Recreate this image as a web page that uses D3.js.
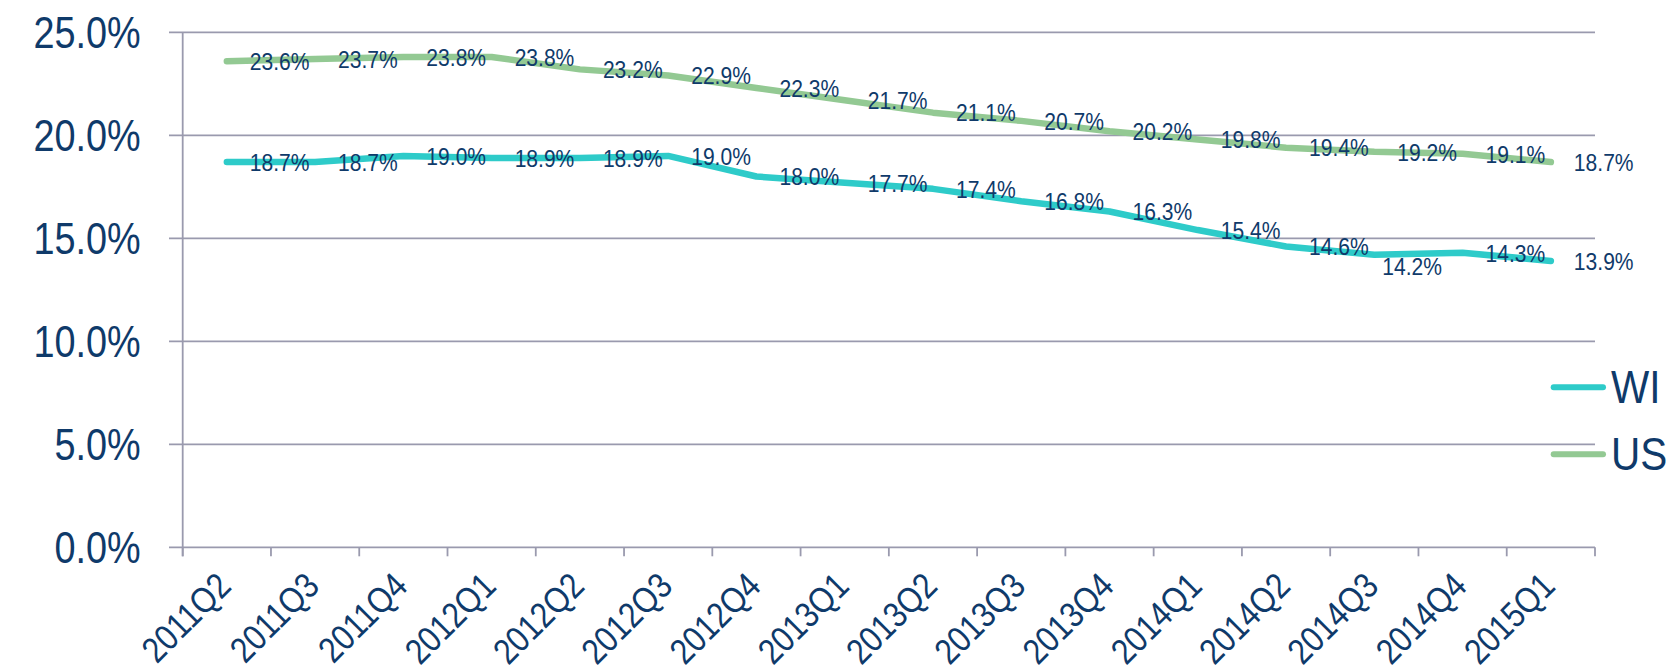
<!DOCTYPE html>
<html>
<head>
<meta charset="utf-8">
<script src="https://cdn.jsdelivr.net/npm/d3@7"></script>
<style>
  html, body { margin: 0; padding: 0; background: #ffffff; }
  svg { display: block; }
  text { font-family: "Liberation Sans", Arial, sans-serif; fill: #0f3a6a; }
</style>
</head>
<body>
<svg id="chart" width="1676" height="670"></svg>
<script>
// ---- data ----
const categories = ["2011Q2","2011Q3","2011Q4","2012Q1","2012Q2","2012Q3","2012Q4","2013Q1",
                    "2013Q2","2013Q3","2013Q4","2014Q1","2014Q2","2014Q3","2014Q4","2015Q1"];
const wiValues = [18.7, 18.7, 19.0, 18.9, 18.9, 19.0, 18.0, 17.7, 17.4, 16.8, 16.3, 15.4, 14.6, 14.2, 14.3, 13.9];
const usValues = [23.6, 23.7, 23.8, 23.8, 23.2, 22.9, 22.3, 21.7, 21.1, 20.7, 20.2, 19.8, 19.4, 19.2, 19.1, 18.7];
const seriesNames = ["WI", "US"];
const yTicks = [0, 5, 10, 15, 20, 25];

// ---- layout / style ----
const colors = { WI: "#2ecbc9", US: "#93c993" };
const grid = "#9a9aae";
const sx = 0.86; // horizontal text compression
const pLeft = 182.7, pRight = 1595, pTop = 32.3, pBottom = 547.3;
// manual nudge for one label (series-index) -> [dx, dy] relative to default
const labelNudge = { "WI-13": [-15, 11] };

const svg = d3.select("#chart");
const x = d3.scaleBand().domain(categories).range([pLeft, pRight]).padding(0);
const y = d3.scaleLinear().domain([0, 25]).range([pBottom, pTop]);
const cx = c => x(c) + x.bandwidth() / 2;

// gridlines + y labels
const gy = svg.append("g");
yTicks.forEach(t => {
  gy.append("line")
    .attr("x1", 169).attr("x2", pRight)
    .attr("y1", y(t)).attr("y2", y(t))
    .attr("stroke", grid).attr("stroke-width", 1.8);
  gy.append("text")
    .attr("transform", `translate(140.7,${y(t)}) scale(${sx},1)`)
    .attr("text-anchor", "end").attr("dy", "0.36em")
    .style("font-size", "44px")
    .text(t.toFixed(1) + "%");
});
// y axis line
svg.append("line").attr("x1", pLeft).attr("x2", pLeft).attr("y1", pTop).attr("y2", pBottom + 9)
  .attr("stroke", grid).attr("stroke-width", 1.8);
// x ticks at band boundaries
const bounds = categories.map(c => x(c)).concat([pRight]);
bounds.forEach(b => {
  svg.append("line").attr("x1", b).attr("x2", b).attr("y1", pBottom).attr("y2", pBottom + 9)
    .attr("stroke", grid).attr("stroke-width", 1.8);
});
// x labels
categories.forEach(c => {
  svg.append("text")
    .attr("transform", `translate(${cx(c) - 3},579) rotate(-45) scale(${sx},1)`)
    .attr("text-anchor", "end").attr("dy", "0.36em")
    .style("font-size", "36px")
    .text(c);
});

// lines
const series = [
  { name: "WI", values: wiValues },
  { name: "US", values: usValues }
];
const line = d3.line()
  .x((d, i) => cx(categories[i]))
  .y(d => y(d))
  .curve(d3.curveLinear);
series.forEach(s => {
  svg.append("path").attr("d", line(s.values))
    .attr("fill", "none").attr("stroke", colors[s.name])
    .attr("stroke-width", 6.5).attr("stroke-linecap", "round").attr("stroke-linejoin", "round");
});
// data labels
series.forEach(s => {
  s.values.forEach((v, i) => {
    const n = labelNudge[s.name + "-" + i] || [0, 0];
    svg.append("text")
      .attr("transform", `translate(${cx(categories[i]) + 23 + n[0]},${y(v) + n[1]}) scale(${sx},1)`)
      .attr("dy", "0.36em")
      .style("font-size", "24.5px")
      .text(v.toFixed(1) + "%");
  });
});

// legend
const legY = [387.3, 454.3];
seriesNames.forEach((name, i) => {
  svg.append("line").attr("x1", 1553.7).attr("x2", 1603).attr("y1", legY[i]).attr("y2", legY[i])
    .attr("stroke", colors[name]).attr("stroke-width", 6).attr("stroke-linecap", "round");
  svg.append("text")
    .attr("transform", `translate(1611,${legY[i] + 15.3}) scale(0.88,1)`)
    .style("font-size", "46px")
    .text(name);
});
</script>
</body>
</html>
